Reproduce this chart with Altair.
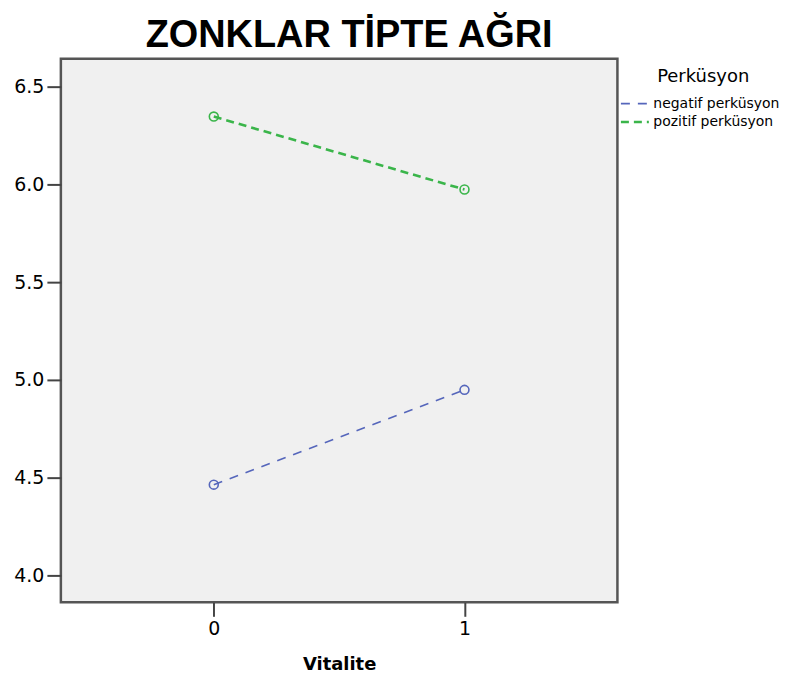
import altair as alt
import pandas as pd

vitalite = [0, 1]
series_names = ["negatif perküsyon", "pozitif perküsyon"]
negatif = [4.464, 4.949]
pozitif = [6.347, 5.974]
y_ticks = [4.0, 4.5, 5.0, 5.5, 6.0, 6.5]
x_ticks = [0, 1]

rows = []
for name, vals in zip(series_names, [negatif, pozitif]):
    for v, y in zip(vitalite, vals):
        rows.append({"Vitalite": v, "value": y, "Perküsyon": name})
df = pd.DataFrame(rows)

colors = ["#5566bb", "#3ab54a"]

x = alt.X("Vitalite:Q", scale=alt.Scale(domain=[-0.61, 1.61], nice=False, zero=False),
          axis=alt.Axis(values=x_ticks, title="Vitalite", format="d", grid=False, domain=False,
                        tickSize=14, tickWidth=2, tickColor="#444", labelFontSize=19,
                        labelColor="#000", labelPadding=3, titleFontSize=18,
                        titleFontWeight="bold", titleColor="#000", titlePadding=17,
                        labelFont="DejaVu Sans", titleFont="DejaVu Sans"))
y = alt.Y("value:Q", scale=alt.Scale(domain=[3.862, 6.643], nice=False, zero=False),
          axis=alt.Axis(values=y_ticks, title=None, format=".1f", grid=False, domain=False,
                        tickSize=14, tickWidth=2, tickColor="#444", labelFontSize=19,
                        labelColor="#000", labelPadding=3, labelFont="DejaVu Sans"))

lines = alt.Chart(df).mark_line().encode(
    x=x, y=y,
    color=alt.Color("Perküsyon:N", scale=alt.Scale(domain=series_names, range=colors),
                    legend=alt.Legend(orient="none", legendX=567, legendY=9,
                                      title="Perküsyon", titleFontSize=18, titleFont="DejaVu Sans",
                                      titleFontWeight="normal", titleColor="#000",
                                      titleAnchor="middle", titlePadding=10,
                                      labelFontSize=14, labelFont="DejaVu Sans", labelColor="#000",
                                      labelLimit=0,
                                      symbolType="M-2,0H2", symbolSize=196, symbolStrokeWidth=2,
                                      labelOffset=10, rowPadding=3)),
    strokeDash=alt.StrokeDash("Perküsyon:N", scale=alt.Scale(domain=series_names, range=[[9, 8], [8, 5]])),
    strokeWidth=alt.StrokeWidth("Perküsyon:N", scale=alt.Scale(domain=series_names, range=[1.6, 2.6]), legend=None),
)

points = alt.Chart(df).mark_point(shape="circle", filled=False, size=80, strokeWidth=1.6, opacity=1).encode(
    x=x, y=y,
    stroke=alt.Stroke("Perküsyon:N", scale=alt.Scale(domain=series_names, range=colors), legend=None),
)

chart = alt.layer(lines, points).properties(
    width=558, height=545,
    title=alt.TitleParams("ZONKLAR TİPTE AĞRI", fontSize=38, font="Liberation Sans",
                          fontWeight="bold", color="#000", anchor="middle", dx=10, offset=4),
    autosize=alt.AutoSizeParams(type="none"),
    padding={"left": 53, "top": 50, "right": 164, "bottom": 73},
).configure_view(fill="#f0f0f0", stroke="#555", strokeWidth=2.5)

chart.save("out.html", embed_options={"renderer": "svg", "actions": False})
